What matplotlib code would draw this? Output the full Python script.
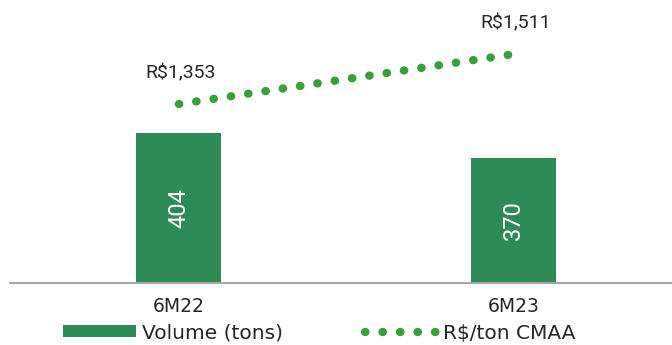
import matplotlib.pyplot as plt

# -------------------------------------------------------------------------------
# Data
# -------------------------------------------------------------------------------
periods = ['6M22', '6M23']
volume_tons = [404, 370]
price_per_ton = [1353, 1511]
price_labels = ['R$1,353', 'R$1,511']

bar_color = '#2E8B57'
dot_color = '#3A9E3A'

plt.rcParams['font.family'] = ['DejaVu Sans']

fig = plt.figure(figsize=(6.72, 3.45), dpi=100)
ax = fig.add_axes([10 / 672, 62 / 345, 662 / 672, 283 / 345])
ax2 = ax.twinx()

x = list(range(len(periods)))

# bars - volume
bars = ax.bar(x, volume_tons, width=0.254, color=bar_color, label='Volume (tons)', zorder=2)
for xi, v in zip(x, volume_tons):
    ax.text(xi, 200 + (v - 200) / 2, str(v), rotation=90, ha='center', va='center',
            color='white', fontsize=17, family=['Roboto', 'DejaVu Sans'])

ax.set_ylim(200, 585)
ax.set_xlim(-0.504, 1.472)
ax.set_xticks(x)
ax.set_xticklabels(periods, fontsize=13.5)
ax.tick_params(axis='x', length=0, pad=10, colors='#262626')
ax.set_yticks([])
for side in ['top', 'left', 'right']:
    ax.spines[side].set_visible(False)
ax.spines['bottom'].set_color('#A6A6A6')
ax.spines['bottom'].set_linewidth(1.5)

# dotted line - price
line, = ax2.plot(x, price_per_ton, color=dot_color, linewidth=6,
                 linestyle=(0, (0.05, 2.05)), dash_capstyle='round', label='R$/ton CMAA')
ax2.set_ylim(787, 1682)
ax2.set_yticks([])
for side in ['top', 'left', 'right', 'bottom']:
    ax2.spines[side].set_visible(False)

for xi, v, lab in zip(x, price_per_ton, price_labels):
    ax2.annotate(lab, (xi, v), xytext=(1, 22), textcoords='offset points',
                 ha='center', va='center', fontsize=14, color='#262626',
                 family=['Roboto', 'DejaVu Sans'])

fig.legend(handles=[bars, line], loc='center', bbox_to_anchor=(0.4755, 12 / 345),
           ncol=2, frameon=False, fontsize=14.5, handlelength=3.6, handleheight=0.55,
           handletextpad=0.3, columnspacing=4.07, borderpad=0, labelcolor='#262626')

fig.savefig('out.png', dpi=100)
